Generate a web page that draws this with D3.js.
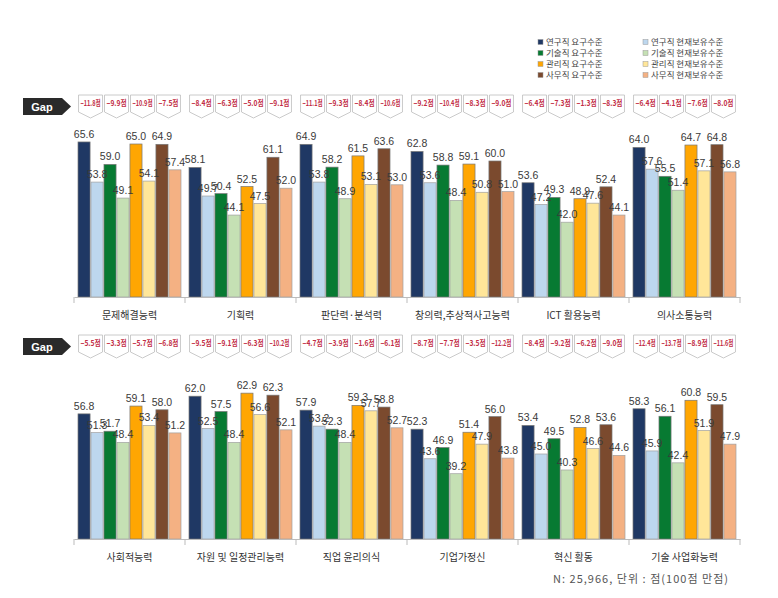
<!DOCTYPE html>
<html>
<head>
<meta charset="utf-8">
<script src="https://cdn.jsdelivr.net/npm/d3@7"></script>
<style>
  body { margin: 0; background: #fff; }
  svg { display: block; }
</style>
</head>
<body>
<svg id="chart" width="778" height="598"></svg>
<script>
// ---- DATA ----
const categoriesTop = ["문제해결능력", "기획력", "판단력·분석력", "창의력,추상적사고능력", "ICT 활용능력", "의사소통능력"];
const categoriesBottom = ["사회적능력", "자원 및 일정관리능력", "직업 윤리의식", "기업가정신", "혁신 활동", "기술 사업화능력"];
const seriesNames = ["연구직 요구수준", "연구직 현재보유수준", "기술직 요구수준", "기술직 현재보유수준",
                     "관리직 요구수준", "관리직 현재보유수준", "사무직 요구수준", "사무직 현재보유수준"];
const seriesColors = ["#1f3864", "#bdd7ee", "#077a32", "#c5e0b4", "#ffa602", "#ffe699", "#7b4a2e", "#f4b183"];
// values: top six categories then bottom six categories
const researchReq  = [65.6, 58.1, 64.9, 62.8, 53.6, 64.0, 56.8, 62.0, 57.9, 52.3, 53.4, 58.3];
const researchCur  = [53.8, 49.7, 53.8, 53.6, 47.2, 57.6, 51.3, 52.5, 53.2, 43.6, 45.0, 45.9];
const techReq      = [59.0, 50.4, 58.2, 58.8, 49.3, 55.5, 51.7, 57.5, 52.3, 46.9, 49.5, 56.1];
const techCur      = [49.1, 44.1, 48.9, 48.4, 42.0, 51.4, 48.4, 48.4, 48.4, 39.2, 40.3, 42.4];
const managerReq   = [65.0, 52.5, 61.5, 59.1, 48.9, 64.7, 59.1, 62.9, 59.3, 51.4, 52.8, 60.8];
const managerCur   = [54.1, 47.5, 53.1, 50.8, 47.6, 57.1, 53.4, 56.6, 57.7, 47.9, 46.6, 51.9];
const officeReq    = [64.9, 61.1, 63.6, 60.0, 52.4, 64.8, 58.0, 62.3, 58.8, 56.0, 53.6, 59.5];
const officeCur    = [57.4, 52.0, 53.0, 51.0, 44.1, 56.8, 51.2, 52.1, 52.7, 43.8, 44.6, 47.9];
const yDomain = [20, 70];

const seriesValues = [researchReq, researchCur, techReq, techCur, managerReq, managerCur, officeReq, officeCur];

const svg = d3.select("#chart");
const fontKR = "'Noto Sans CJK KR', 'Noto Sans', sans-serif";
const fontNum = "'Liberation Sans', Arial, sans-serif";

// ---- LEGEND ----
const legend = svg.append("g");
seriesNames.forEach((name, i) => {
  const col = i % 2, row = Math.floor(i / 2);
  const lx = col === 0 ? 538 : 643, ly = 43 + row * 11;
  legend.append("rect").attr("x", lx).attr("y", ly - 3.5).attr("width", 5).attr("height", 5)
    .attr("fill", seriesColors[i]).attr("stroke", "#999").attr("stroke-width", 0.5);
  legend.append("text").attr("x", lx + 8).attr("y", ly + 1.5).text(name)
    .attr("font-family", fontKR).attr("font-size", 8.5).attr("fill", "#444");
});

// ---- PANELS ----
const panels = [
  { cats: categoriesTop, offset: 0, base: 297, gapTop: 95 },
  { cats: categoriesBottom, offset: 6, base: 539, gapTop: 335 }
];

panels.forEach(p => {
  const g = svg.append("g");
  const x0 = d3.scaleBand().domain(p.cats).range([74, 740]).padding(0);
  const x1 = d3.scaleBand().domain(seriesNames).range([4, 107]).paddingInner(0.07);
  const y = d3.scaleLinear().domain(yDomain).range([p.base, p.base - 170]);

  // Gap label
  const gy = p.gapTop + 3;
  g.append("path")
    .attr("d", `M23,${gy} L62,${gy} L71,${gy + 8.5} L62,${gy + 17} L23,${gy + 17} Z`)
    .attr("fill", "#2a2a2a");
  g.append("text").attr("x", 42).attr("y", gy + 12.5).attr("text-anchor", "middle")
    .attr("font-family", fontNum).attr("font-weight", "bold").attr("font-size", 11)
    .attr("fill", "#fff").text("Gap");

  // bars
  p.cats.forEach((cat, ci) => {
    const idx = p.offset + ci;
    const gg = g.append("g").attr("transform", `translate(${x0(cat)},0)`);
    seriesNames.forEach((s, si) => {
      const v = seriesValues[si][idx];
      gg.append("rect").attr("x", x1(s)).attr("y", y(v))
        .attr("width", x1.bandwidth()).attr("height", p.base - y(v))
        .attr("fill", seriesColors[si]).attr("stroke", si % 2 ? "#a0a0a0" : "#777")
        .attr("stroke-width", 0.7);
    });
    seriesNames.forEach((s, si) => {
      const v = seriesValues[si][idx];
      gg.append("text").attr("x", x1(s) + x1.bandwidth() / 2).attr("y", y(v) - 4)
        .attr("text-anchor", "middle").attr("font-family", fontNum).attr("font-size", 10.5)
        .attr("fill", "#3a3a3a").text(d3.format(".1f")(v));
    });
    // gap boxes
    for (let j = 0; j < 4; j++) {
      const req = seriesValues[2 * j][idx], cur = seriesValues[2 * j + 1][idx];
      const cx = x0(cat) + (x1(seriesNames[2 * j]) + x1(seriesNames[2 * j + 1]) + x1.bandwidth()) / 2;
      const t = p.gapTop, w = 24;
      g.append("path")
        .attr("d", `M${cx - w / 2},${t} L${cx + w / 2},${t} L${cx + w / 2},${t + 17} L${cx},${t + 23} L${cx - w / 2},${t + 17} Z`)
        .attr("fill", "#fff").attr("stroke", "#bdbdbd").attr("stroke-width", 0.8);
      g.append("text").attr("x", cx).attr("y", t + 11).attr("text-anchor", "middle")
        .attr("font-family", fontKR).attr("font-weight", "bold").attr("font-size", 8)
        .attr("fill", "#c22d45").attr("textLength", 20).attr("lengthAdjust", "spacingAndGlyphs")
        .text(d3.format(".1f")(cur - req) + "점");
    }
  });

  // axis
  const axis = d3.axisBottom(x0).tickSize(0).tickPadding(15);
  const ax = g.append("g").attr("transform", `translate(0,${p.base})`).call(axis);
  ax.select(".domain").attr("stroke", "#bbb");
  ax.selectAll(".tick text").attr("font-family", fontKR).attr("font-size", 10).attr("fill", "#333");
  // divider ticks
  const divs = p.cats.map(c => x0(c)).concat([x0.range()[1]]);
  g.selectAll(null).data(divs).enter().append("line")
    .attr("x1", d => d).attr("x2", d => d).attr("y1", p.base).attr("y2", p.base + 6)
    .attr("stroke", "#bbb");
});

// footer
svg.append("text").attr("x", 553).attr("y", 583).attr("font-family", fontKR)
  .attr("font-size", 11).attr("fill", "#555")
  .attr("textLength", 175).attr("lengthAdjust", "spacing")
  .text("N: 25,966, 단위 : 점(100점 만점)");
</script>
</body>
</html>
